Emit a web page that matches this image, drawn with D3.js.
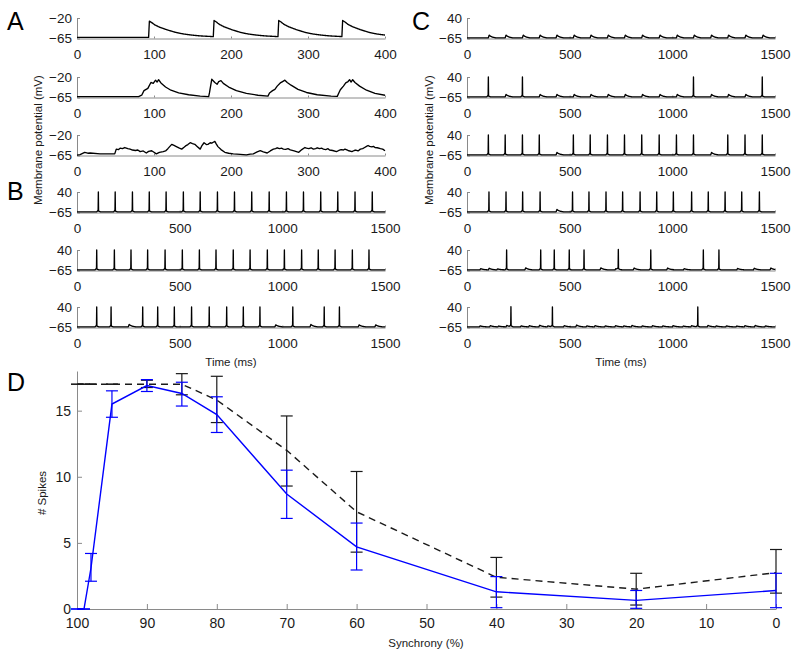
<!DOCTYPE html>
<html>
<head>
<meta charset="utf-8">
<title>Membrane potential traces and synchrony</title>
<script src="https://cdn.jsdelivr.net/npm/d3@7"></script>
<style>
  body { margin: 0; background: #fff; }
  svg { font-family: "Liberation Sans", Arial, sans-serif; }
  .axis path, .axis line { stroke: #8a8a8a; stroke-width: 1; }
  .axis text { font-size: 13.5px; fill: #1a1a1a; }
  .dax text { font-size: 14px; }
  .axis-title { font-size: 11.5px; fill: #1a1a1a; }
  .letter { font-size: 25px; fill: #000; }
  .trace { fill: none; stroke: #000; stroke-width: 1.35; stroke-linejoin: round; }
</style>
</head>
<body>
<svg id="fig" width="800" height="657"></svg>
<script>
// ---- data ----
var aTicks = [0, 100, 200, 300, 400];
var bTicks = [0, 500, 1000, 1500];
var aRange = [-65, -20];
var bRange = [-65, 40];

// A1: PSP onsets (ms) and one PSP waveform (ms after onset, mV)
var a1Onsets = [93, 177, 261, 344];
var pspShape = [[0, -62.5], [1, -27], [4, -30], [8, -35], [14, -40], [24, -46], [35, -51.5], [45, -55], [56, -57.5], [67, -59.3], [90, -61.5], [120, -62.5]];

// A2 / A3: traces read point by point (ms, mV)
var a2Points = [[0, -63], [80, -63], [84, -60], [87, -50], [92, -45], [96, -32], [99, -34], [102, -27], [104, -31], [106, -26],
  [109, -33], [115, -42], [122, -49], [132, -55], [145, -59], [160, -62], [171, -63], [172, -55], [175, -25], [179, -32],
  [182, -36], [184, -30], [187, -28], [190, -34], [197, -42], [207, -50], [220, -56], [235, -60], [248, -62], [250, -55],
  [254, -50], [257, -47], [260, -40], [264, -33], [267, -30], [270, -27], [273, -32], [278, -38], [287, -47], [298, -54],
  [312, -59], [330, -62], [338, -62.5], [340, -55], [342, -48], [346, -40], [349, -33], [352, -30], [354, -26], [356, -31],
  [358, -26], [361, -32], [367, -40], [376, -49], [387, -56], [400, -60]];
var a3Points = [[0, -64], [4, -63], [10, -58], [14, -60], [17, -59.5], [30, -61.5], [49, -61.5], [51, -51], [54, -52], [56, -49],
  [59, -50], [62, -47.5], [66, -50], [69, -51], [72, -53], [76, -54], [79, -53], [82, -56.5], [86, -55], [90, -59.5],
  [93, -56], [97, -54.5], [100, -58], [103, -61.5], [107, -58], [112, -56.5], [115, -55], [118, -50], [123, -40.5],
  [126, -43], [129, -45.5], [133, -49], [136, -51], [139, -47], [141, -44], [144, -41], [147, -37], [150, -39], [153, -40.5],
  [156, -45], [160, -51], [162, -44], [165, -37], [168, -41], [170, -40.5], [173, -37], [175, -38], [177, -36], [179, -34],
  [181, -40], [183, -45.5], [187, -52], [192, -58], [197, -60], [203, -61.5], [212, -62.5], [220, -63.5], [225, -62],
  [229, -61.5], [234, -57], [238, -54.5], [242, -57], [247, -59.5], [251, -55], [255, -51], [258, -50], [260, -48], [263, -50],
  [266, -49], [268, -51], [271, -51.5], [274, -50], [277, -52.5], [282, -55], [288, -58], [292, -52], [296, -47.5], [298, -49],
  [301, -50], [304, -48], [307, -51], [310, -50], [312, -48], [315, -50], [318, -49], [320, -51], [323, -52], [326, -50],
  [328, -53], [332, -54], [337, -56.5], [340, -54], [343, -52], [346, -53], [348, -51], [352, -54], [357, -56.5], [360, -54],
  [362, -53], [365, -55], [368, -51], [371, -50], [373, -48], [376, -45], [378, -43], [380, -45], [383, -46], [385, -45],
  [387, -47.5], [390, -48], [394, -50], [397, -51], [400, -54.5]];

// spike and subthreshold bump waveforms (ms, mV above rest / relative size)
var spikeShape = [[-8, 0], [-3, 5], [-1, 10], [0, 101.5], [1, 4], [4, 2.5], [10, 0]];
var bumpShape = [[0, 0], [4, 1], [10, 0.6], [20, 0.25], [35, 0]];
var restV = -61.5;

// input times (ms)
var inputTimes = [104, 186, 270, 352, 434, 518, 600, 684, 767, 851, 936, 1020, 1103, 1187, 1270, 1354, 1438];

// B: spike times (ms), bumps [ms, mV]
var b1Spikes = [104, 186, 270, 352, 434, 518, 600, 684, 767, 851, 936, 1020, 1103, 1187, 1270, 1354, 1438];
var b2Spikes = [96, 182, 263, 344, 429, 513, 596, 677, 761, 843, 927, 1010, 1094, 1175, 1257, 1341, 1422];
var b3Spikes = [96, 166, 320, 393, 474, 558, 644, 729, 810, 891, 1051, 1204, 1278];
var b3Bumps = [[250, 12], [964, 10], [1135, 12], [1370, 10], [1451, 10]];

// C: spike times (ms), bumps [ms, mV]
var c1Spikes = [];
var c1Bumps = inputTimes.map(function(t) { return [t, 14]; });
var c2Spikes = [104, 270, 1103, 1438];
var c2Bumps = [[186, 12], [352, 12], [434, 12], [518, 12], [600, 12], [684, 12], [767, 12], [851, 12], [936, 12],
  [1020, 12], [1187, 12], [1270, 12], [1354, 12]];
var c3Spikes = [104, 186, 270, 352, 518, 600, 684, 767, 851, 936, 1020, 1103, 1270, 1354, 1438];
var c3Bumps = [[434, 12], [1187, 12]];
var c4Spikes = [107, 190, 271, 356, 514, 594, 677, 758, 843, 924, 1005, 1094, 1175, 1257, 1338, 1424];
var c4Bumps = [[434, 12]];
var c5Spikes = [193, 359, 425, 498, 570, 737, 895, 1151, 1227];
var c5Bumps = [[63, 6], [104, 8], [145, 5], [282, 10], [648, 10], [721, 6], [810, 9], [973, 9], [1054, 6], [1314, 7],
  [1395, 8], [1476, 9]];
var c6Spikes = [214, 416, 1124];
var c6Bumps = [[60, 5], [110, 6], [150, 4], [190, 7], [260, 5], [300, 6], [350, 8], [390, 5], [470, 6], [530, 9],
  [580, 5], [620, 6], [670, 5], [720, 6], [760, 5], [800, 7], [850, 5], [900, 6], [950, 5], [1000, 6], [1050, 4],
  [1090, 6], [1170, 7], [1210, 5], [1260, 5], [1310, 4], [1350, 6], [1400, 7], [1450, 5]];

// D: number of spikes vs synchrony
var syncLevels = [100, 99, 98, 95, 90, 85, 80, 70, 60, 40, 20, 0];
var blueMean = [0, 0, 3.1, 15.5, 16.9, 16.3, 14.7, 8.7, 4.7, 1.3, 0.65, 1.4];
var blueLow = [0, 0, 2.1, 14.5, 16.45, 15.35, 13.35, 6.85, 2.95, 0.1, 0.05, 0.1];
var blueHigh = [0, 0, 4.2, 16.5, 17.35, 17.15, 16.05, 10.5, 6.5, 2.45, 1.4, 2.7];
var blackMean = [17, 17, 17, 17, 17, 17, 15.8, 12.0, 7.35, 2.4, 1.5, 2.75];
var blackLow = [17, 17, 17, 17, 16.75, 16.2, 14.1, 9.3, 4.3, 0.9, 0.3, 1.2];
var blackHigh = [17, 17, 17, 17, 17.3, 17.8, 17.6, 14.6, 10.4, 3.9, 2.7, 4.5];
var dXTicks = [100, 90, 80, 70, 60, 50, 40, 30, 20, 10, 0];
var dYTicks = [0, 5, 10, 15];

// ---- build traces ----
function interp(shape) {
  return d3.scaleLinear().domain(shape.map(function(d) { return d[0]; }))
    .range(shape.map(function(d) { return d[1]; })).clamp(true);
}
var pspF = interp(pspShape), spikeF = interp(spikeShape), bumpF = interp(bumpShape);

function pspTrace(onsets, tmax) {
  var base = pspShape[0][1], pts = [];
  for (var i = 0; i <= tmax * 2; i++) {
    var t = i / 2, v = base;
    onsets.forEach(function(o) { if (t >= o) v += pspF(t - o) - base; });
    pts.push([t, v]);
  }
  return pts;
}

function spikeTrace(spikes, bumps, tmax) {
  var pts = [];
  for (var i = 0; i <= tmax * 4; i++) {
    var t = i / 4, v = restV;
    spikes.forEach(function(s) { if (Math.abs(t - s) < 12) v += spikeF(t - s); });
    bumps.forEach(function(b) { var d = t - b[0]; if (d > -1 && d < 40) v += b[1] * bumpF(d); });
    pts.push([t, v]);
  }
  return pts;
}

var svg = d3.select("#fig");
var colX = [[77, 385], [467, 775]];
var rowTop = [18, 77, 135, 192, 250, 307];
var rowH = 20.5;

var panels = [
  {col: 0, row: 0, tmax: 400, yd: aRange, ticks: aTicks, pts: pspTrace(a1Onsets, 400)},
  {col: 0, row: 1, tmax: 400, yd: aRange, ticks: aTicks, pts: a2Points},
  {col: 0, row: 2, tmax: 400, yd: aRange, ticks: aTicks, pts: a3Points},
  {col: 0, row: 3, tmax: 1500, yd: bRange, ticks: bTicks, pts: spikeTrace(b1Spikes, [], 1500)},
  {col: 0, row: 4, tmax: 1500, yd: bRange, ticks: bTicks, pts: spikeTrace(b2Spikes, [], 1500)},
  {col: 0, row: 5, tmax: 1500, yd: bRange, ticks: bTicks, pts: spikeTrace(b3Spikes, b3Bumps, 1500)},
  {col: 1, row: 0, tmax: 1500, yd: bRange, ticks: bTicks, pts: spikeTrace(c1Spikes, c1Bumps, 1500)},
  {col: 1, row: 1, tmax: 1500, yd: bRange, ticks: bTicks, pts: spikeTrace(c2Spikes, c2Bumps, 1500)},
  {col: 1, row: 2, tmax: 1500, yd: bRange, ticks: bTicks, pts: spikeTrace(c3Spikes, c3Bumps, 1500)},
  {col: 1, row: 3, tmax: 1500, yd: bRange, ticks: bTicks, pts: spikeTrace(c4Spikes, c4Bumps, 1500)},
  {col: 1, row: 4, tmax: 1500, yd: bRange, ticks: bTicks, pts: spikeTrace(c5Spikes, c5Bumps, 1500)},
  {col: 1, row: 5, tmax: 1500, yd: bRange, ticks: bTicks, pts: spikeTrace(c6Spikes, c6Bumps, 1500)}
];

var fmt = function(d) { return d < 0 ? "\u2212" + Math.abs(d) : String(d); };

panels.forEach(function(p) {
  var top = rowTop[p.row], bottom = top + rowH;
  var x = d3.scaleLinear().domain([0, p.tmax]).range(colX[p.col]);
  var y = d3.scaleLinear().domain(p.yd).range([bottom, top]);

  svg.append("g").attr("class", "axis").attr("transform", "translate(0," + bottom + ")")
    .call(d3.axisBottom(x).tickValues(p.ticks).tickSize(-2).tickSizeOuter(0).tickPadding(11).tickFormat(fmt));
  svg.append("g").attr("class", "axis").attr("transform", "translate(" + colX[p.col][0] + ",0)")
    .call(d3.axisLeft(y).tickValues(p.yd).tickSize(-3).tickSizeOuter(0).tickPadding(5).tickFormat(fmt));

  svg.append("path").datum(p.pts).attr("class", "trace")
    .attr("d", d3.line().x(function(d) { return x(d[0]); }).y(function(d) { return y(d[1]); }));
});
svg.selectAll(".axis path.domain").attr("fill", "none");

// titles of the trace panels
[[37.5, 140], [429, 140]].forEach(function(c) {
  svg.append("text").attr("class", "axis-title")
    .attr("transform", "translate(" + c[0] + "," + c[1] + ") rotate(-90)")
    .attr("text-anchor", "middle").attr("dominant-baseline", "central")
    .text("Membrane potential (mV)");
});
[231, 621].forEach(function(cx) {
  svg.append("text").attr("class", "axis-title").attr("x", cx).attr("y", 366)
    .attr("text-anchor", "middle").text("Time (ms)");
});

// ---- panel D ----
var dx = d3.scaleLinear().domain([100, 0]).range([77, 776]);
var dy = d3.scaleLinear().domain([0, 18]).range([609, 371]);

svg.append("g").attr("class", "axis dax").attr("transform", "translate(0,609)")
  .call(d3.axisBottom(dx).tickValues(dXTicks).tickSize(-5).tickSizeOuter(0).tickPadding(9));
svg.append("g").attr("class", "axis dax").attr("transform", "translate(77,0)")
  .call(d3.axisLeft(dy).tickValues(dYTicks).tickSize(-5).tickSizeOuter(0).tickPadding(6));
svg.selectAll(".dax path.domain").attr("fill", "none");

function errorBars(mean, low, high, color, dash, width) {
  var g = svg.append("g");
  var pts = syncLevels.map(function(s, i) { return {s: s, m: mean[i], lo: low[i], hi: high[i]}; });
  g.append("path").datum(pts)
    .attr("fill", "none").attr("stroke", color).attr("stroke-width", width)
    .attr("stroke-dasharray", dash)
    .attr("d", d3.line().x(function(d) { return dx(d.s); }).y(function(d) { return dy(d.m); }));
  var bars = g.selectAll("g.bar").data(pts).enter().append("g")
    .attr("stroke", color).attr("stroke-width", 1.2);
  bars.append("line")
    .attr("x1", function(d) { return dx(d.s); }).attr("x2", function(d) { return dx(d.s); })
    .attr("y1", function(d) { return dy(d.lo); }).attr("y2", function(d) { return dy(d.hi); });
  ["lo", "hi"].forEach(function(k) {
    bars.append("line")
      .attr("x1", function(d) { return dx(d.s) - 6; }).attr("x2", function(d) { return dx(d.s) + 6; })
      .attr("y1", function(d) { return dy(d[k]); }).attr("y2", function(d) { return dy(d[k]); });
  });
}
errorBars(blackMean, blackLow, blackHigh, "#1a1a1a", "7,5", 1.4);
errorBars(blueMean, blueLow, blueHigh, "#0000ff", null, 1.4);

svg.append("text").attr("class", "axis-title").attr("x", 426).attr("y", 647)
  .attr("text-anchor", "middle").text("Synchrony (%)");
svg.append("text").attr("class", "axis-title")
  .attr("transform", "translate(42,493) rotate(-90)")
  .attr("text-anchor", "middle").attr("dominant-baseline", "central").text("# Spikes");

// panel letters
[["A", 7, 30], ["B", 7, 200], ["C", 412, 30], ["D", 7, 391]].forEach(function(l) {
  svg.append("text").attr("class", "letter").attr("x", l[1]).attr("y", l[2]).text(l[0]);
});
</script>
</body>
</html>
